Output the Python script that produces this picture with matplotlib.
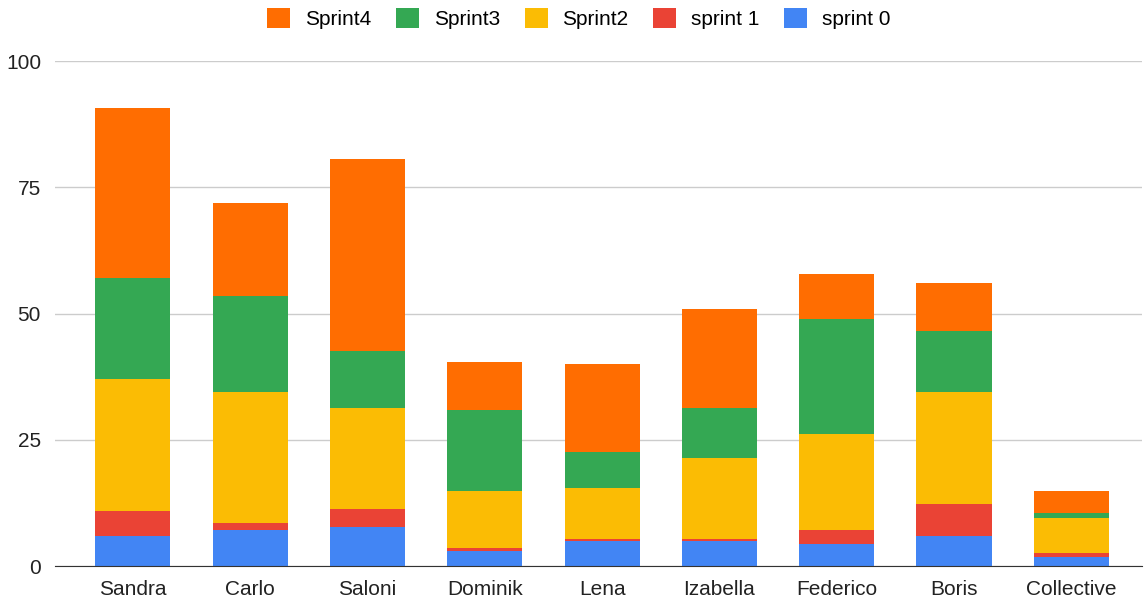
import numpy as np
import matplotlib.pyplot as plt

plt.rcParams['font.family'] = ['Liberation Sans', 'DejaVu Sans']

names = ['Sandra', 'Carlo', 'Saloni', 'Dominik', 'Lena', 'Izabella',
         'Federico', 'Boris', 'Collective']
sprint0 = [6.0, 7.2, 7.8, 2.9, 5.0, 5.0, 4.3, 6.0, 1.9]
sprint1 = [5.0, 1.4, 3.6, 0.7, 0.4, 0.4, 2.9, 6.4, 0.7]
sprint2 = [26.0, 25.9, 20.0, 11.2, 10.1, 16.1, 18.9, 22.1, 7.0]
sprint3 = [20.0, 19.0, 11.2, 16.2, 7.1, 9.8, 22.9, 12.1, 1.0]
sprint4 = [33.6, 18.3, 38.0, 9.5, 17.5, 19.7, 8.8, 9.4, 4.2]
yticks = [0, 25, 50, 75, 100]

series = [('sprint 0', sprint0, '#4285F4'),
          ('sprint 1', sprint1, '#EA4335'),
          ('Sprint2', sprint2, '#FBBC04'),
          ('Sprint3', sprint3, '#34A853'),
          ('Sprint4', sprint4, '#FF6D01')]

fig = plt.figure(figsize=(11.44, 6.01), dpi=100)
ax = fig.add_axes([0.048, 0.058, 0.95, 0.8405])

x = np.arange(len(names))
bottom = np.zeros(len(names))
handles = []
for label, vals, col in series:
    b = ax.bar(x, vals, 0.64, bottom=bottom, color=col, label=label, zorder=3)
    handles.append(b)
    bottom += np.array(vals)

ax.set_ylim(0, 100)
ax.set_xlim(-0.665, 8.6)
ax.set_yticks(yticks)
ax.set_yticklabels([str(t) for t in yticks], fontsize=15, color='#222222')
ax.set_xticks(x)
ax.set_xticklabels(names, fontsize=15, color='#222222')
ax.tick_params(length=0, pad=10)
ax.tick_params(axis='y', pad=10)
ax.grid(axis='y', color='#cccccc', linewidth=1, zorder=0)
for s in ['top', 'right', 'left']:
    ax.spines[s].set_visible(False)
ax.spines['bottom'].set_color('#333333')
ax.spines['bottom'].set_zorder(4)

leg = fig.legend(handles[::-1], [s[0] for s in series][::-1], loc='upper center',
                 bbox_to_anchor=(0.506, 1.018), ncol=5, frameon=False, fontsize=15,
                 handlelength=1.1, handleheight=1.1, columnspacing=1.2,
                 handletextpad=0.7)

fig.savefig('out.png', dpi=100)
